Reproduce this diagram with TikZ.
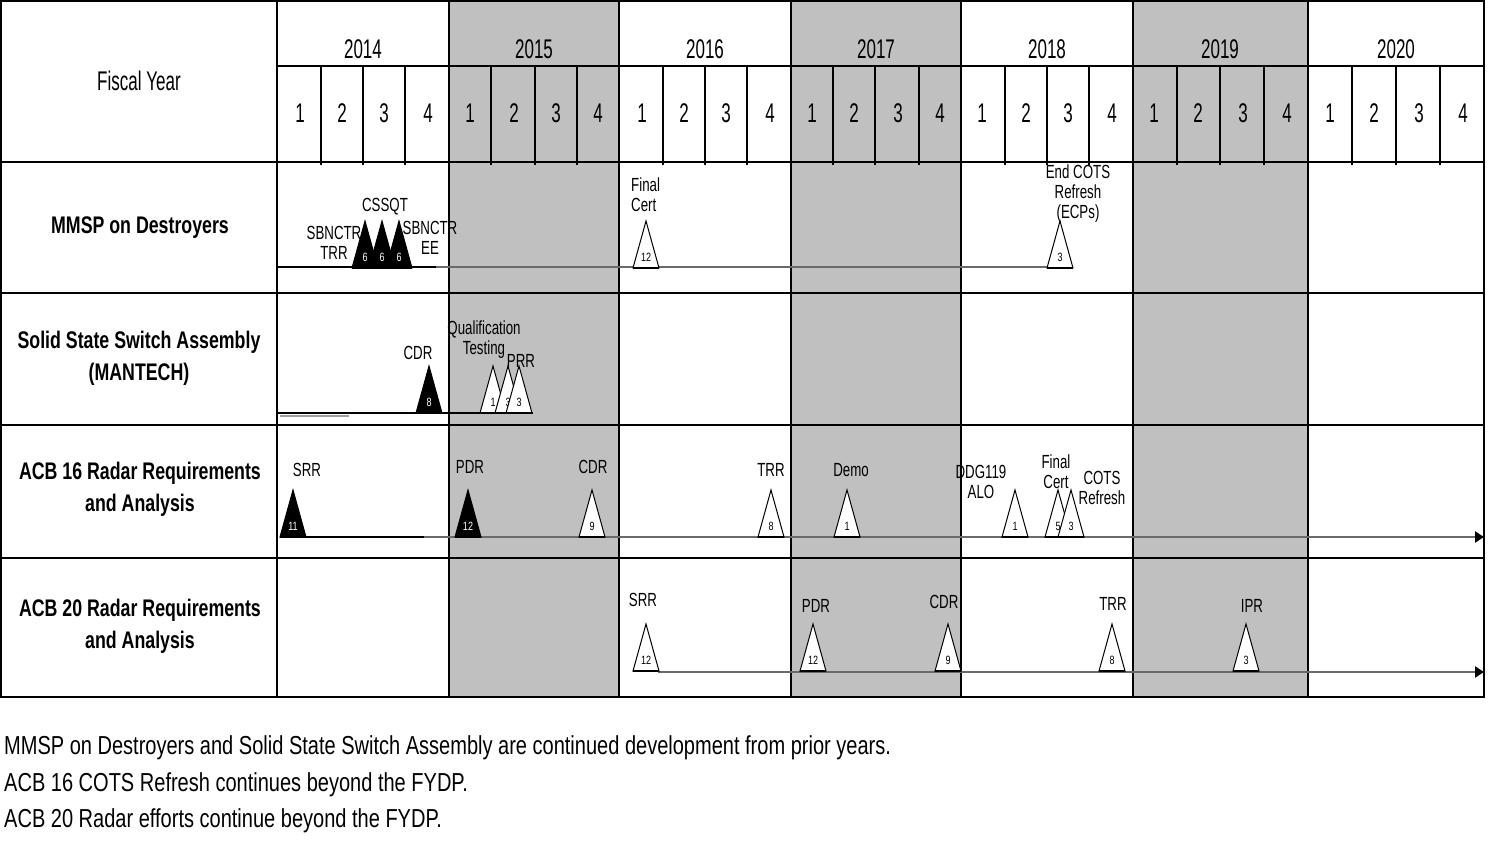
\documentclass[tikz,border=0pt]{standalone}
\usepackage{fontspec}
\setmainfont[FakeStretch=0.72]{Liberation Sans}
\newfontfamily\hdrfont[FakeStretch=0.63]{Liberation Sans}
\newfontfamily\rowfont[FakeStretch=0.74]{Liberation Sans}
\newfontfamily\msfont[FakeStretch=0.7]{Liberation Sans}
\newfontfamily\numfont[FakeStretch=0.75]{Liberation Sans}
\newfontfamily\ftfont[FakeStretch=0.77]{Liberation Sans}
\usetikzlibrary{arrows.meta}
\definecolor{bandgray}{HTML}{C0C0C0}
\definecolor{linegray}{HTML}{6A6A6A}
\definecolor{lightline}{HTML}{A0A0A0}
\tikzset{
  grid/.style={line width=1.8pt, black},
  yearlab/.style={inner sep=0pt, font=\hdrfont\fontsize{27}{30}\selectfont},
  qlab/.style={inner sep=0pt, font=\hdrfont\fontsize{27}{30}\selectfont},
  rowlab/.style={inner sep=0pt, align=center, font=\rowfont\bfseries\fontsize{24}{32}\selectfont},
  mslab/.style={inner sep=0pt, align=center, font=\msfont\fontsize{19}{20}\selectfont},
  msnum/.style={inner sep=0pt, font=\numfont\fontsize{12}{12}\selectfont},
  tri/.style={draw=black, line width=1pt, line join=miter},
  footlab/.style={inner sep=0pt, anchor=west, font=\ftfont\fontsize{26}{28}\selectfont},
  bline/.style={line width=2.6pt, black},
  gline/.style={line width=2.6pt, linegray},
  arrowline/.style={line width=2.6pt, linegray, -{Triangle[length=9pt,width=11pt,color=black]}}
}
\newcommand\msTri[6]{% name, apex x, base y, fill, text colour, number
  \draw[tri, fill=#4] ({#2-13},#3) -- (#2,{#3-47}) -- ({#2+13},#3) -- cycle;
  \draw[line width=2pt] ({#2-13},#3) -- ({#2+13},#3);
  \node[msnum, text=#5] (#1) at (#2,{#3-11}) {#6};
}
\begin{document}
\begin{tikzpicture}[x=1pt, y=-1pt]
\useasboundingbox (0,0) rectangle (1497,842);
\fill[white] (0,0) rectangle (1497,842);
% shaded years
\fill[bandgray] (449,1) rectangle (619,697);
\fill[bandgray] (791,1) rectangle (961,697);
\fill[bandgray] (1133,1) rectangle (1308,697);
% grid
\draw[grid] (1,1) rectangle (1484,697);
\foreach \yy in {162,293,425,558} \draw[grid] (1,\yy) -- (1484,\yy);
\draw[grid] (277,66) -- (1484,66);
\foreach \xx in {277,449,619,791,961,1133,1308} \draw[grid] (\xx,1) -- (\xx,697);
\foreach \xx in {321,363,405,491,535,577,663,705,747,833,875,919,1005,1047,1089,1177,1220,1264,1352,1396,1440}
  \draw[grid] (\xx,66) -- (\xx,165);
% header texts
\node[yearlab] (fy) at (139,81) {Fiscal Year};
\node[yearlab] (y14) at (363,49) {2014};
\node[yearlab] (y15) at (534,49) {2015};
\node[yearlab] (y16) at (705,49) {2016};
\node[yearlab] (y17) at (876,49) {2017};
\node[yearlab] (y18) at (1047,49) {2018};
\node[yearlab] (y19) at (1220,49) {2019};
\node[yearlab] (y20) at (1396,49) {2020};
\foreach \xx/\q [count=\i] in {300/1,342/2,384/3,428/4,470/1,514/2,556/3,598/4,642/1,684/2,726/3,770/4,812/1,854/2,898/3,940/4,982/1,1026/2,1068/3,1112/4,1154/1,1198/2,1243/3,1287/4,1330/1,1374/2,1419/3,1463/4}
  \node[qlab] (q\i) at (\xx,113) {\q};
% row labels
\node[rowlab] (r1) at (140,228) {MMSP on Destroyers};
\node[rowlab] (r2) at (139,358) {Solid State Switch Assembly\\(MANTECH)};
\node[rowlab] (r3) at (140,489) {ACB 16 Radar Requirements\\and Analysis};
\node[rowlab] (r4) at (140,626) {ACB 20 Radar Requirements\\and Analysis};
% ---- MMSP row
\coordinate (a1) at (277,267);
\coordinate (a2) at (436,267);
\coordinate (a3) at (1060,267);
\draw[bline] (a1) -- (a2);
\draw[gline] (a2) -- (a3);
\msTri{m1}{365}{268}{black}{white}{6}
\msTri{m2}{382}{268}{black}{white}{6}
\msTri{m3}{399}{268}{black}{white}{6}
\msTri{m4}{646}{268}{white}{black}{12}
\msTri{m5}{1060}{268}{white}{black}{3}
\node[mslab] (l1) at (334,243) {SBNCTR\\TRR};
\node[mslab] (l2) at (385,207) {CSSQT};
\node[mslab] (l3) at (430,238) {SBNCTR\\EE};
\node[mslab, align=left, anchor=west] (l4) at (631,195) {Final\\Cert};
\node[mslab] (l5) at (1078,194) {End COTS\\Refresh\\(ECPs)};
% ---- SSSA row
\coordinate (b0) at (280,416);
\coordinate (b0e) at (349,416);
\coordinate (b1) at (277,413);
\coordinate (b2) at (533,413);
\draw[line width=2.4pt, lightline] (b0) -- (b0e);
\draw[bline] (b1) -- (b2);
\msTri{s1}{429}{413}{black}{white}{8}
\msTri{s2}{493}{413}{white}{black}{1}
\msTri{s3}{508}{413}{white}{black}{3}
\msTri{s4}{519}{413}{white}{black}{3}
\node[mslab] (l6) at (418,353) {CDR};
\node[mslab] (l7) at (484,340) {Qualification\\Testing};
\node[mslab] (l8) at (521,361) {PRR};
% ---- ACB 16 row
\coordinate (c1) at (280,537);
\coordinate (c2) at (424,537);
\coordinate (c3) at (1484,537);
\draw[bline] (c1) -- (c2);
\draw[arrowline] (c2) -- (c3);
\msTri{t1}{293}{537}{black}{white}{11}
\msTri{t2}{468}{537}{black}{white}{12}
\msTri{t3}{592}{537}{white}{black}{9}
\msTri{t4}{771}{537}{white}{black}{8}
\msTri{t5}{847}{537}{white}{black}{1}
\msTri{t6}{1015}{537}{white}{black}{1}
\msTri{t7}{1058}{537}{white}{black}{5}
\msTri{t8}{1071}{537}{white}{black}{3}
\node[mslab] (l9) at (307,470) {SRR};
\node[mslab] (l10) at (470,467) {PDR};
\node[mslab] (l11) at (593,467) {CDR};
\node[mslab] (l12) at (771,470) {TRR};
\node[mslab] (l13) at (851,470) {Demo};
\node[mslab] (l14) at (981,482) {DDG119\\ALO};
\node[mslab] (l15) at (1056,472) {Final\\Cert};
\node[mslab] (l16) at (1102,488) {COTS\\Refresh};
% ---- ACB 20 row
\coordinate (d1) at (658,672);
\coordinate (d2) at (1484,672);
\draw[arrowline] (d1) -- (d2);
\msTri{u1}{646}{671}{white}{black}{12}
\msTri{u2}{813}{671}{white}{black}{12}
\msTri{u3}{948}{671}{white}{black}{9}
\msTri{u4}{1112}{671}{white}{black}{8}
\msTri{u5}{1246}{671}{white}{black}{3}
\node[mslab] (l17) at (643,600) {SRR};
\node[mslab] (l18) at (816,606) {PDR};
\node[mslab] (l19) at (944,602) {CDR};
\node[mslab] (l20) at (1113,604) {TRR};
\node[mslab] (l21) at (1252,606) {IPR};
% ---- footer
\node[footlab] (f1) at (4,748) {MMSP on Destroyers and Solid State Switch Assembly are continued development from prior years.};
\node[footlab] (f2) at (4,785) {ACB 16 COTS Refresh continues beyond the FYDP.};
\node[footlab] (f3) at (4,821) {ACB 20 Radar efforts continue beyond the FYDP.};
\end{tikzpicture}
\end{document}
